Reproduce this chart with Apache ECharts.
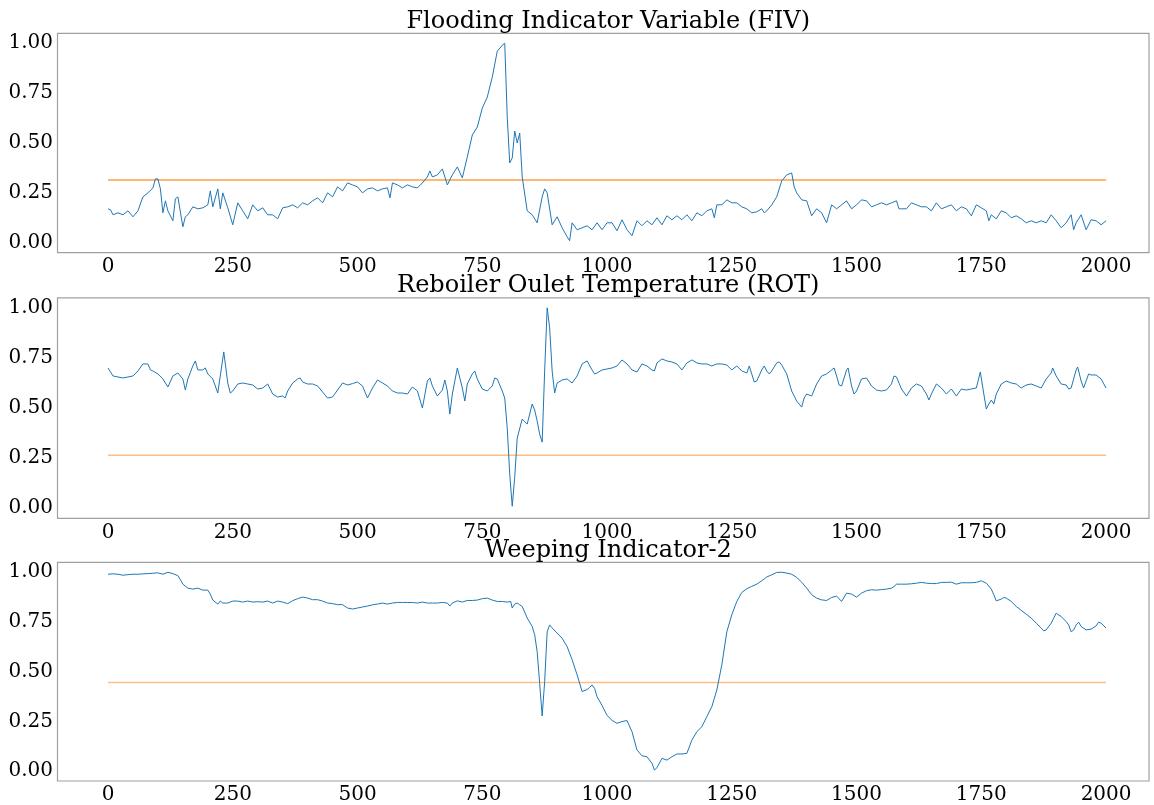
<!DOCTYPE html>
<html>
<head>
<meta charset="utf-8">
<script src="https://cdn.jsdelivr.net/npm/echarts@6/dist/echarts.min.js"></script>
<style>
html,body{margin:0;padding:0;background:#fff;}
#chart{width:1154px;height:805px;}
</style>
</head>
<body>
<div id="chart"></div>
<script>
// ---- data ----
const titles = ["Flooding Indicator Variable (FIV)", "Reboiler Oulet Temperature (ROT)", "Weeping Indicator-2"];
const xTicks = [0, 250, 500, 750, 1000, 1250, 1500, 1750, 2000];
const yTicks = [0, 0.25, 0.5, 0.75, 1.0];
const thresholds = [0.315, 0.265, 0.445];
const thresholdX = [0, 2000];

const fivX = [0,5,10,20,30,40,50,60,70,80,90,95,100,105,110,115,120,130,135,140,150,155,160,170,180,190,200,205,210,220,225,230,240,250,260,270,280,290,300,310,320,330,340,350,360,370,380,390,400,410,420,430,440,450,460,470,480,490,500,510,520,530,540,550,560,565,570,580,590,600,610,620,630,640,645,650,660,670,680,690,700,710,720,730,740,750,760,770,780,790,795,800,805,810,815,820,825,830,840,850,860,870,875,880,890,900,910,920,925,930,940,950,960,970,980,990,1000,1010,1020,1030,1040,1050,1060,1070,1080,1090,1100,1110,1120,1130,1140,1150,1160,1170,1180,1190,1200,1210,1215,1220,1230,1240,1250,1260,1270,1280,1290,1300,1310,1315,1320,1330,1340,1350,1360,1370,1375,1380,1390,1400,1410,1420,1430,1440,1450,1460,1470,1480,1490,1500,1510,1520,1530,1540,1550,1560,1570,1580,1585,1590,1600,1610,1620,1630,1640,1650,1660,1670,1680,1690,1700,1710,1720,1730,1740,1750,1760,1765,1770,1780,1790,1800,1810,1820,1830,1840,1850,1860,1870,1880,1890,1900,1910,1920,1930,1935,1940,1950,1960,1970,1980,1990,2000];
const fivY = [0.17,0.165,0.14,0.15,0.14,0.16,0.13,0.16,0.23,0.25,0.275,0.32,0.32,0.27,0.15,0.21,0.16,0.11,0.22,0.23,0.08,0.13,0.14,0.18,0.17,0.175,0.19,0.26,0.18,0.27,0.17,0.25,0.175,0.09,0.20,0.16,0.12,0.19,0.16,0.175,0.14,0.14,0.12,0.175,0.18,0.19,0.175,0.20,0.19,0.21,0.225,0.20,0.25,0.23,0.28,0.26,0.30,0.29,0.28,0.25,0.27,0.275,0.26,0.27,0.275,0.225,0.30,0.29,0.275,0.29,0.28,0.275,0.30,0.33,0.36,0.33,0.34,0.37,0.29,0.34,0.38,0.325,0.43,0.54,0.58,0.675,0.73,0.83,0.96,0.99,1.00,0.63,0.40,0.425,0.56,0.50,0.55,0.33,0.16,0.14,0.10,0.23,0.27,0.25,0.09,0.13,0.075,0.03,0.01,0.10,0.065,0.075,0.085,0.065,0.10,0.065,0.10,0.10,0.06,0.115,0.065,0.035,0.11,0.085,0.11,0.09,0.125,0.09,0.135,0.115,0.135,0.115,0.14,0.11,0.15,0.135,0.16,0.17,0.125,0.19,0.19,0.215,0.20,0.20,0.18,0.17,0.15,0.155,0.17,0.15,0.16,0.19,0.23,0.31,0.34,0.35,0.28,0.25,0.215,0.21,0.135,0.17,0.15,0.10,0.19,0.17,0.19,0.21,0.17,0.19,0.215,0.21,0.18,0.19,0.20,0.19,0.20,0.21,0.17,0.17,0.17,0.20,0.19,0.18,0.18,0.16,0.20,0.17,0.18,0.19,0.16,0.18,0.17,0.135,0.19,0.175,0.16,0.11,0.14,0.12,0.16,0.15,0.125,0.135,0.12,0.10,0.11,0.10,0.11,0.10,0.14,0.11,0.075,0.10,0.14,0.065,0.10,0.14,0.065,0.115,0.11,0.09,0.11];

const rotX = [0,10,20,30,40,50,60,70,80,85,90,100,110,120,130,140,150,155,160,170,175,180,190,195,200,210,220,232,240,245,250,260,270,280,290,300,310,320,330,340,350,355,360,370,380,385,390,400,410,420,430,440,450,460,470,480,490,500,510,520,530,540,550,560,570,580,590,600,610,620,630,640,645,650,660,670,675,680,685,690,700,710,715,720,730,735,740,750,760,770,775,780,790,795,800,805,810,815,820,830,840,850,855,860,865,870,875,880,885,890,895,900,910,920,930,940,950,960,970,975,980,990,1000,1010,1020,1030,1040,1050,1060,1070,1080,1090,1095,1100,1110,1120,1130,1140,1150,1160,1170,1180,1190,1200,1210,1220,1230,1240,1250,1260,1270,1280,1285,1290,1295,1300,1310,1315,1320,1325,1330,1340,1345,1350,1360,1370,1380,1385,1390,1395,1400,1410,1420,1430,1440,1450,1455,1460,1465,1470,1480,1483,1490,1495,1500,1510,1520,1530,1540,1550,1560,1570,1575,1580,1590,1600,1610,1620,1630,1640,1645,1650,1660,1670,1680,1690,1700,1710,1720,1730,1740,1745,1748,1755,1760,1765,1770,1775,1780,1790,1800,1810,1820,1830,1840,1850,1860,1870,1880,1890,1893,1900,1910,1920,1925,1930,1940,1943,1950,1955,1960,1965,1970,1980,1990,2000];
const rotY = [0.70,0.66,0.655,0.65,0.655,0.66,0.685,0.72,0.72,0.69,0.685,0.67,0.645,0.605,0.66,0.675,0.645,0.59,0.645,0.71,0.735,0.69,0.69,0.70,0.67,0.645,0.575,0.78,0.625,0.575,0.585,0.62,0.625,0.62,0.615,0.595,0.60,0.62,0.57,0.555,0.56,0.55,0.585,0.625,0.645,0.65,0.63,0.62,0.62,0.61,0.58,0.55,0.555,0.59,0.625,0.615,0.622,0.63,0.61,0.55,0.60,0.64,0.625,0.61,0.585,0.575,0.575,0.57,0.605,0.585,0.50,0.635,0.65,0.61,0.56,0.59,0.64,0.585,0.47,0.57,0.70,0.60,0.535,0.62,0.67,0.685,0.645,0.595,0.585,0.61,0.65,0.645,0.585,0.55,0.40,0.17,0.01,0.155,0.35,0.445,0.42,0.52,0.49,0.435,0.37,0.33,0.685,1.00,0.90,0.685,0.575,0.625,0.64,0.645,0.625,0.66,0.72,0.735,0.69,0.67,0.675,0.69,0.695,0.70,0.71,0.74,0.72,0.69,0.68,0.72,0.71,0.69,0.685,0.725,0.745,0.735,0.73,0.72,0.69,0.725,0.74,0.725,0.72,0.72,0.71,0.72,0.72,0.715,0.69,0.71,0.685,0.675,0.71,0.67,0.63,0.635,0.69,0.71,0.685,0.67,0.685,0.725,0.73,0.715,0.67,0.585,0.535,0.52,0.505,0.55,0.57,0.56,0.62,0.66,0.67,0.69,0.70,0.66,0.615,0.61,0.69,0.70,0.61,0.57,0.585,0.645,0.65,0.61,0.59,0.585,0.59,0.62,0.66,0.655,0.595,0.56,0.60,0.62,0.61,0.57,0.54,0.57,0.62,0.60,0.57,0.595,0.56,0.595,0.59,0.595,0.60,0.65,0.68,0.57,0.495,0.52,0.54,0.52,0.57,0.62,0.635,0.625,0.62,0.60,0.615,0.62,0.61,0.60,0.645,0.675,0.70,0.66,0.62,0.615,0.595,0.60,0.69,0.705,0.635,0.60,0.635,0.67,0.665,0.665,0.645,0.60];

const weepX = [0,10,20,30,40,50,60,70,80,90,100,110,120,130,140,145,150,160,170,180,190,200,205,210,220,225,230,240,250,260,270,280,290,300,310,320,330,340,350,360,370,380,390,400,410,420,430,440,450,460,470,480,490,500,510,520,530,540,550,560,570,580,590,600,610,620,630,640,650,660,670,680,685,690,700,710,720,730,740,750,760,770,780,790,800,807,810,815,820,825,830,840,850,855,860,865,870,875,880,885,890,900,910,920,930,940,950,960,965,970,975,980,990,1000,1010,1020,1030,1040,1050,1060,1070,1080,1090,1095,1100,1110,1120,1130,1140,1150,1160,1170,1180,1190,1200,1210,1220,1230,1240,1250,1260,1270,1280,1290,1300,1310,1320,1330,1340,1350,1360,1370,1380,1390,1400,1410,1420,1430,1440,1450,1460,1470,1480,1490,1500,1510,1520,1530,1540,1550,1560,1570,1575,1580,1590,1600,1610,1620,1630,1640,1650,1660,1670,1680,1690,1700,1710,1720,1730,1740,1750,1760,1770,1775,1780,1790,1795,1800,1810,1820,1830,1840,1850,1860,1870,1875,1880,1890,1895,1900,1910,1920,1925,1930,1935,1940,1945,1950,1960,1970,1980,1985,1990,2000];
const weepY = [0.99,0.992,0.99,0.985,0.988,0.99,0.99,0.992,0.993,0.995,0.997,0.99,1.00,0.993,0.983,0.963,0.94,0.92,0.915,0.92,0.91,0.91,0.89,0.86,0.84,0.855,0.845,0.845,0.855,0.855,0.85,0.855,0.85,0.852,0.85,0.855,0.845,0.855,0.85,0.842,0.857,0.867,0.875,0.87,0.862,0.862,0.855,0.845,0.842,0.837,0.837,0.82,0.815,0.82,0.825,0.83,0.836,0.84,0.845,0.84,0.845,0.848,0.848,0.848,0.848,0.845,0.85,0.845,0.845,0.845,0.848,0.845,0.83,0.845,0.856,0.85,0.858,0.858,0.86,0.867,0.87,0.86,0.853,0.853,0.85,0.853,0.82,0.84,0.845,0.836,0.828,0.77,0.727,0.685,0.60,0.44,0.277,0.45,0.70,0.735,0.72,0.694,0.668,0.626,0.56,0.484,0.40,0.41,0.42,0.433,0.416,0.374,0.33,0.28,0.255,0.24,0.249,0.254,0.198,0.106,0.077,0.072,0.039,0.005,0.017,0.064,0.055,0.072,0.086,0.086,0.089,0.156,0.198,0.223,0.274,0.324,0.408,0.534,0.70,0.786,0.853,0.898,0.917,0.929,0.94,0.957,0.976,0.987,0.999,1.00,0.996,0.99,0.974,0.95,0.92,0.887,0.87,0.861,0.858,0.873,0.88,0.853,0.895,0.89,0.875,0.895,0.907,0.912,0.91,0.913,0.915,0.92,0.928,0.94,0.94,0.94,0.942,0.945,0.949,0.945,0.943,0.943,0.949,0.949,0.95,0.94,0.947,0.947,0.947,0.949,0.957,0.945,0.915,0.887,0.856,0.865,0.873,0.87,0.853,0.828,0.808,0.789,0.769,0.744,0.719,0.705,0.71,0.744,0.769,0.794,0.777,0.752,0.735,0.70,0.71,0.735,0.749,0.727,0.71,0.714,0.73,0.749,0.744,0.719];

// ---- layout ----
const FONT = "'DejaVu Serif', serif";
const grids = [
  {left: 57.5, top: 33.3, width: 1091.5, height: 219.4},
  {left: 57.5, top: 297.8, width: 1091.5, height: 220.5},
  {left: 57.5, top: 562.3, width: 1091.5, height: 220.4}
];
const titleTops = [5, 269, 534];
const xMin = -101.2, xMax = 2086;
const thrOpacity = [0.75, 0.5, 0.5];

const seriesXY = [[fivX, fivY], [rotX, rotY], [weepX, weepY]];

const option = {
  animation: false,
  backgroundColor: '#ffffff',
  title: titles.map((t, i) => ({
    text: t,
    left: grids[i].left + grids[i].width / 2,
    top: titleTops[i],
    textAlign: 'center',
    textStyle: {fontFamily: FONT, fontSize: 24, fontWeight: 'normal', color: '#000'}
  })),
  grid: grids.map(g => Object.assign({show: true, borderColor: '#a0a0a0', borderWidth: 1.2, backgroundColor: 'transparent'}, g)),
  xAxis: grids.map((g, i) => ({
    type: 'value', gridIndex: i, min: xMin, max: xMax,
    axisLine: {show: false}, axisTick: {show: false}, splitLine: {show: false},
    axisLabel: {customValues: xTicks, fontFamily: FONT, fontSize: 20, color: '#000', margin: 4,
      formatter: v => String(v)}
  })),
  yAxis: grids.map((g, i) => ({
    type: 'value', gridIndex: i, min: -0.05, max: 1.05,
    axisLine: {show: false}, axisTick: {show: false}, splitLine: {show: false},
    axisLabel: {customValues: yTicks, fontFamily: FONT, fontSize: 20, color: '#000', margin: 4.5,
      formatter: v => v.toFixed(2)}
  })),
  series: []
};

seriesXY.forEach(([xs, ys], i) => {
  option.series.push({
    type: 'line', xAxisIndex: i, yAxisIndex: i, showSymbol: false, symbol: 'none',
    data: xs.map((x, k) => [x, ys[k]]),
    lineStyle: {color: '#1f77b4', width: 1}, z: 3
  });
  option.series.push({
    type: 'line', xAxisIndex: i, yAxisIndex: i, showSymbol: false, symbol: 'none',
    data: thresholdX.map(x => [x, thresholds[i]]),
    lineStyle: {color: '#ff7f0e', width: 1.5, opacity: thrOpacity[i]}, z: 2
  });
});

const chart = echarts.init(document.getElementById('chart'), null, {renderer: 'canvas'});
chart.setOption(option);
</script>
</body>
</html>
